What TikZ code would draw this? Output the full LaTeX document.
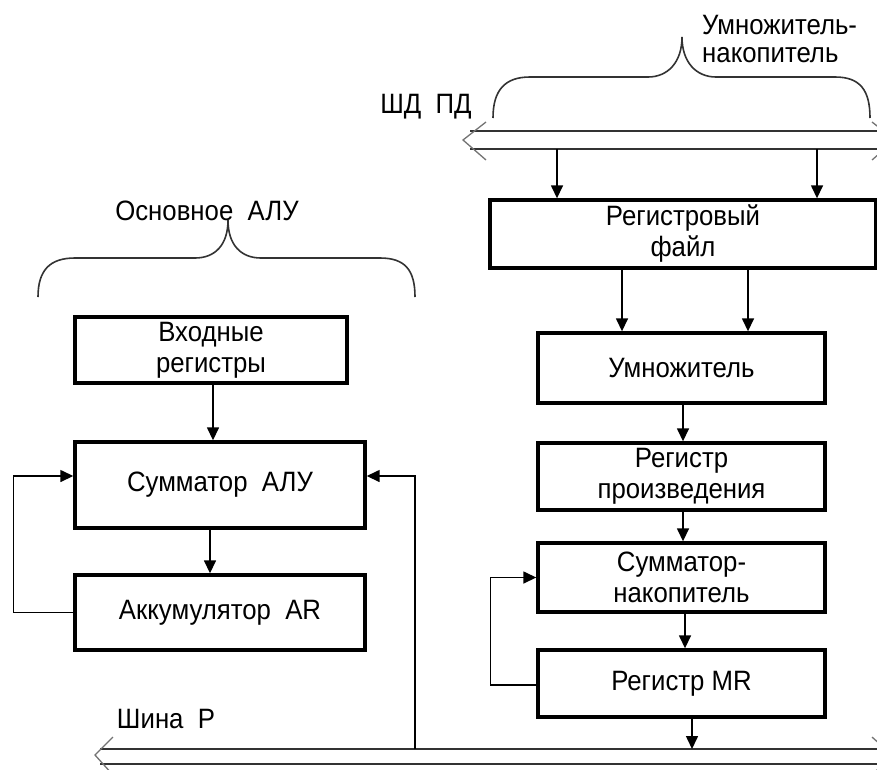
\documentclass[tikz,border=0pt]{standalone}
\usepackage{fontspec}
\setmainfont{Liberation Sans}
\newfontfamily\dfont[FakeStretch=0.92]{Liberation Sans}
\usetikzlibrary{arrows.meta}
\begin{document}
\begin{tikzpicture}[x=1pt,y=-1pt,
  box/.style={draw, line width=3.4pt, inner sep=0pt, align=center,
    font=\dfont\fontsize{28}{31}\selectfont},
  arr/.style={line width=1.5pt, -{Triangle[length=13pt,width=12pt]}},
  brace/.style={line width=1.6pt, draw=black!80},
  busline/.style={line width=2pt, draw=black!80},
  chev/.style={line width=1.3pt, draw=black!55},
  lbl/.style={font=\dfont\fontsize{28}{28}\selectfont, inner sep=0pt, align=left}]

\useasboundingbox (0,0) rectangle (877,769);
\clip (0,0) rectangle (877,769);

% ---------- main ALU ----------
\node[box, minimum width=272pt, minimum height=66pt] (inreg) at (211,350) {Входные\\регистры};
\node[box, minimum width=290pt, minimum height=86pt] (sum) at (220,485) {Сумматор\ \ АЛУ};
\node[box, minimum width=290pt, minimum height=75pt] (acc) at (220,612.5) {Аккумулятор\ \ AR};

\node[lbl] (aluname) at (207,211) {Основное\ \ АЛУ};
\draw[brace] (38,297) .. controls (38,270) and (50,258) .. (75,258) -- (195,258)
  .. controls (215,258) and (228,245) .. (228,220)
  .. controls (228,245) and (241,258) .. (261,258) -- (380,258)
  .. controls (405,258) and (415,270) .. (415,297);

% ---------- multiplier-accumulator ----------
\node[box, minimum width=386pt, minimum height=68pt] (rf) at (683,234) {Регистровый\\файл};
\node[box, minimum width=287pt, minimum height=70pt] (mul) at (681.5,368) {Умножитель};
\node[box, minimum width=287pt, minimum height=67pt] (prod) at (681.5,476.5) {Регистр\\произведения};
\node[box, minimum width=287pt, minimum height=69pt] (sn) at (681.5,577.5) {Сумматор-\\накопитель};
\node[box, minimum width=287pt, minimum height=67pt] (mr) at (681.5,683.5) {Регистр\ MR};

\node[lbl, anchor=west] (macname) at (702,39) {Умножитель-\\накопитель};
\draw[brace] (493,118) .. controls (493,90) and (505,77) .. (530,77) -- (648,77)
  .. controls (668,77) and (682,62) .. (682,37)
  .. controls (682,62) and (696,77) .. (716,77) -- (835,77)
  .. controls (860,77) and (870,90) .. (870,118);

% ---------- data bus (top) ----------
\coordinate (tbA) at (470,131);
\coordinate (tbB) at (470,149);
\draw[busline] (tbA) -- (900,131);
\draw[busline] (tbB) -- (900,149);
\draw[chev] (486,122) -- (463,140) -- (486,160);
\draw[chev] (872,122) -- (895,140) -- (872,160);
\node[lbl] (busname) at (426,107) {ШД\ \ ПД};

% ---------- result bus (bottom) ----------
\coordinate (bbA) at (100,749);
\coordinate (bbB) at (100,764);
\draw[busline] (bbA) -- (900,749);
\draw[busline] (bbB) -- (900,764);
\draw[chev] (113,737) -- (95,755) -- (113,775);
\draw[chev] (872,737) -- (892,755) -- (872,775);
\node[lbl] (rbusname) at (166,719) {Шина\ \ Р};

% ---------- connectors, main ALU ----------
\draw[arr] ([xshift=2pt]inreg.south) -- ([xshift=2pt]inreg.south |- sum.north);
\draw[arr] ([xshift=-10pt]sum.south) -- ([xshift=-10pt]sum.south |- acc.north);
\draw[arr] (acc.west) -- ++(-60,0) |- ([yshift=9pt]sum.west);
\coordinate (tapP) at (415,749);
\draw[arr] (tapP) |- ([yshift=9pt]sum.east);

% ---------- connectors, multiplier-accumulator ----------
\draw[arr] ([xshift=-126pt]rf.north |- tbB) -- ([xshift=-126pt]rf.north);
\draw[arr] ([xshift=134pt]rf.north |- tbB) -- ([xshift=134pt]rf.north);
\draw[arr] ([xshift=-61pt]rf.south) -- ([xshift=-61pt]rf.south |- mul.north);
\draw[arr] ([xshift=65pt]rf.south) -- ([xshift=65pt]rf.south |- mul.north);
\draw[arr] ([xshift=1.5pt]mul.south) -- ([xshift=1.5pt]mul.south |- prod.north);
\draw[arr] ([xshift=1.5pt]prod.south) -- ([xshift=1.5pt]prod.south |- sn.north);
\draw[arr] ([xshift=3.5pt]sn.south) -- ([xshift=3.5pt]sn.south |- mr.north);
\draw[arr] ([yshift=-1.5pt]mr.west) -- ++(-46,0) |- (sn.west);
\draw[arr] ([xshift=10.5pt]mr.south) -- ([xshift=10.5pt]mr.south |- bbA);

\end{tikzpicture}
\end{document}
